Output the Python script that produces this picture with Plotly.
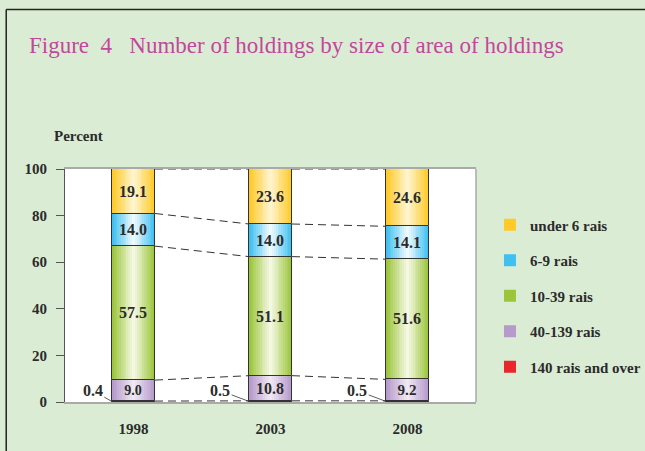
import plotly.graph_objects as go

years = ["1998", "2003", "2008"]
series_names = ["140 rais and over", "40-139 rais", "10-39 rais", "6-9 rais", "under 6 rais"]
v_140_over = [0.4, 0.5, 0.5]
v_40_139 = [9.0, 10.8, 9.2]
v_10_39 = [57.5, 51.1, 51.6]
v_6_9 = [14.0, 14.0, 14.1]
v_under_6 = [19.1, 23.6, 24.6]
y_ticks = [0, 20, 40, 60, 80, 100]

series_values = [v_140_over, v_40_139, v_10_39, v_6_9, v_under_6]
edge_colors = ["#E8262C", "#B69ACB", "#9BC63B", "#3FC0F0", "#FFC928"]
center_colors = ["#F9C4C4", "#EFE7F3", "#F4F7E2", "#EEF9FE", "#FFF4CC"]

FONT = "Liberation Serif, Times New Roman, serif"
TXT = "#2b2b2b"
W = 0.314
N_LAYERS = 12
xs = list(range(len(years)))


def hex2rgb(h):
    h = h.lstrip("#")
    return [int(h[i:i + 2], 16) for i in (0, 2, 4)]


def mix(c1, c2, t):
    a, b = hex2rgb(c1), hex2rgb(c2)
    return "rgb(%d,%d,%d)" % tuple(round(x + (y - x) * t) for x, y in zip(a, b))


fig = go.Figure()

# stacked bases computed from the data
bases = []
run = [0.0] * len(years)
for vals in series_values:
    bases.append(list(run))
    run = [r + v for r, v in zip(run, vals)]
cum = [[b + v for b, v in zip(bs, vals)] for bs, vals in zip(bases, series_values)]

n = len(series_names)
for k, (name, vals, base, ec, cc) in enumerate(zip(series_names, series_values, bases, edge_colors, center_colors)):
    # gradient layers (edge -> centre)
    for j in range(N_LAYERS):
        t = j / (N_LAYERS - 1)
        fig.add_trace(go.Bar(
            x=xs, y=vals, base=base, width=W * (1 - j / N_LAYERS),
            marker=dict(color=mix(ec, cc, t), line=dict(width=0)),
            name=name, showlegend=(j == 0), legendgroup=name, legendrank=n - k,
            hoverinfo="skip",
        ))
    # outline + labels
    small = name == "140 rais and over"
    fig.add_trace(go.Bar(
        x=xs, y=vals, base=base, width=W,
        marker=dict(color="rgba(0,0,0,0)", line=dict(color="#333333", width=1)),
        text=None if small else [f"{v:.1f}" for v in vals],
        textposition="inside", insidetextanchor="middle",
        textfont=dict(family=FONT, size=16, color=TXT, weight="bold"),
        showlegend=False, legendgroup=name, hoverinfo="skip",
    ))

# dashed connectors between bars
for level in cum:
    for i in range(len(years) - 1):
        fig.add_trace(go.Scatter(
            x=[i + W / 2, i + 1 - W / 2], y=[level[i], level[i + 1]],
            mode="lines", line=dict(color="#333333", width=1, dash="8px,5px"),
            showlegend=False, hoverinfo="skip",
        ))

annotations = []
offsets = [-0.14, -0.21, -0.21]
for i, v in enumerate(v_140_over):
    annotations.append(dict(
        x=i - W / 2, y=v / 2, ax=i - W / 2 + offsets[i], ay=4.9,
        axref="x", ayref="y", xref="x", yref="y",
        text=f"{v:.1f}", showarrow=True, arrowhead=0, arrowwidth=0.8,
        arrowcolor="#333333", standoff=0, startstandoff=0,
        font=dict(family=FONT, size=16, color=TXT, weight="bold"),
    ))
annotations += [
    dict(text="Figure  4   Number of holdings by size of area of holdings",
         xref="paper", yref="paper", x=-0.093, y=1.532, xanchor="left", yanchor="middle",
         showarrow=False, font=dict(family=FONT, size=23, color="#C2489C")),
    dict(text="Percent", xref="paper", yref="paper", x=-0.032, y=1.14,
         xanchor="left", yanchor="middle", showarrow=False,
         font=dict(family=FONT, size=15, color=TXT, weight="bold")),
]

fig.update_layout(
    width=645, height=451,
    margin=dict(l=65, r=169, t=169, b=49, autoexpand=False),
    paper_bgcolor="#DBECD5", plot_bgcolor="#FFFFFF",
    barmode="overlay", bargap=0,
    font=dict(family=FONT, color=TXT),
    showlegend=True,
    legend=dict(
        x=1.034, y=0.83, xanchor="left", yanchor="top",
        traceorder="grouped", tracegroupgap=13,
        bgcolor="rgba(0,0,0,0)",
        font=dict(family=FONT, size=15, color=TXT, weight="bold"),
        itemwidth=30,
    ),
    xaxis=dict(
        range=[-0.5, 2.5], tickvals=xs, ticktext=years,
        showline=True, linecolor="#AAAAAA", linewidth=1.5, mirror=True,
        ticks="", showgrid=False, zeroline=False,
        tickfont=dict(family=FONT, size=15, color=TXT, weight="bold"),
        ticklabelstandoff=12,
    ),
    yaxis=dict(
        range=[0, 100], tickvals=y_ticks,
        showline=True, linecolor="#555555", linewidth=1.2,
        ticks="outside", ticklen=8, tickcolor="#555555",
        showgrid=False, zeroline=False,
        tickfont=dict(family=FONT, size=15, color=TXT, weight="bold"),
        ticklabelstandoff=6,
    ),
    annotations=annotations,
    shapes=[
        dict(type="line", xref="paper", yref="paper", x0=1, x1=1, y0=0, y1=1,
             line=dict(color="#AAAAAA", width=1.5)),
        dict(type="line", xref="paper", yref="paper", x0=-0.143, x1=1.45, y0=1.685, y1=1.685,
             line=dict(color="#222222", width=1.5)),
        dict(type="line", xref="paper", yref="paper", x0=-0.143, x1=-0.143, y0=-0.3, y1=1.685,
             line=dict(color="#222222", width=1.5)),
    ],
)

fig.write_html("out.html", config={"displayModeBar": False},
               post_script="document.body.style.margin='0';document.body.style.overflow='hidden';")
